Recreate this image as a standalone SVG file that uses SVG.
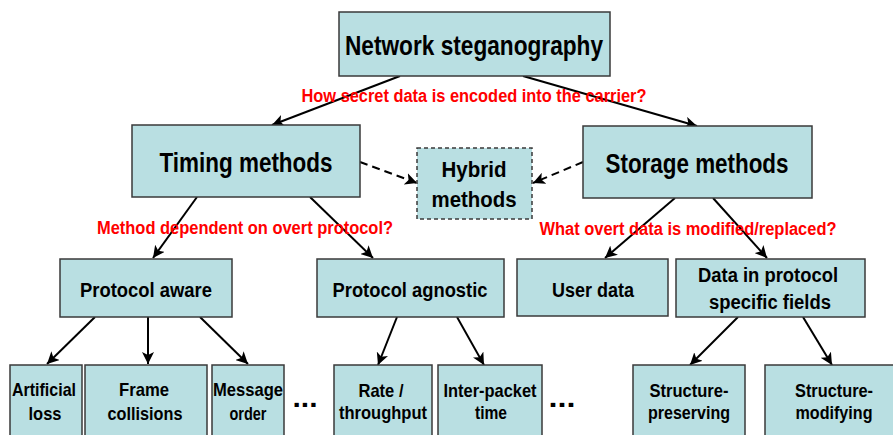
<svg xmlns="http://www.w3.org/2000/svg" width="893" height="435" viewBox="0 0 893 435">
<style>
.box{fill:#B9DFE2;stroke:#3a3a3a;stroke-width:1.5}
.dbox{fill:#B9DFE2;stroke:#3a3a3a;stroke-width:1.5;stroke-dasharray:4 3}
text{font-family:"Liberation Sans",Arial,sans-serif;font-weight:bold;fill:#000;text-anchor:middle}
.t1{font-size:27px}
.t2{font-size:22px}
.t3{font-size:20px}
.t4{font-size:19px}
.q{font-size:18px;fill:#FF0000}
.dots{font-size:28px}
.ln{stroke:#000;stroke-width:2;fill:none;marker-end:url(#ah)}
.dl{stroke:#000;stroke-width:2;fill:none;stroke-dasharray:8 5;marker-end:url(#ah)}
</style>
<defs>
<marker id="ah" markerUnits="userSpaceOnUse" markerWidth="14" markerHeight="12" refX="12" refY="6" orient="auto">
<path d="M0,0 L12,6 L0,12 L3,6 Z" fill="#000"/>
</marker>
</defs>
<g id="connectors">
<line class="ln" x1="400" y1="76" x2="272" y2="125"/>
<line class="ln" x1="523" y1="76" x2="697" y2="126"/>
<line class="dl" x1="360" y1="162" x2="417" y2="183"/>
<line class="dl" x1="583" y1="162" x2="533" y2="183"/>
<line class="ln" x1="197" y1="197" x2="153" y2="258"/>
<line class="ln" x1="310" y1="197" x2="373" y2="258"/>
<line class="ln" x1="675" y1="198" x2="605" y2="258"/>
<line class="ln" x1="713" y1="198" x2="767" y2="258"/>
<line class="ln" x1="95" y1="317" x2="47" y2="364"/>
<line class="ln" x1="148" y1="317" x2="148" y2="364"/>
<line class="ln" x1="200" y1="317" x2="248" y2="364"/>
<line class="ln" x1="397" y1="317" x2="378" y2="365"/>
<line class="ln" x1="457" y1="317" x2="484" y2="365"/>
<line class="ln" x1="738" y1="317" x2="690" y2="365"/>
<line class="ln" x1="803" y1="317" x2="832" y2="365"/>
</g>
<g id="labels">
<text class="q" x="474" y="102" textLength="345" lengthAdjust="spacingAndGlyphs">How secret data is encoded into the carrier?</text>
<text class="q" x="245" y="234" textLength="296" lengthAdjust="spacingAndGlyphs">Method dependent on overt protocol?</text>
<text class="q" x="688" y="235" textLength="297" lengthAdjust="spacingAndGlyphs">What overt data is modified/replaced?</text>
<text class="dots" x="305" y="407" textLength="25" lengthAdjust="spacingAndGlyphs">...</text>
<text class="dots" x="562" y="407" textLength="27" lengthAdjust="spacingAndGlyphs">...</text>
</g>
<g id="root">
<rect class="box" x="339" y="12" width="271" height="64"/>
<text class="t1" x="474" y="55" textLength="258" lengthAdjust="spacingAndGlyphs">Network steganography</text>
</g>
<g id="timing">
<rect class="box" x="132" y="125" width="228" height="72"/>
<text class="t1" x="246" y="172" textLength="173" lengthAdjust="spacingAndGlyphs">Timing methods</text>
</g>
<g id="hybrid">
<rect class="dbox" x="417" y="148" width="115" height="71"/>
<text class="t2" x="474" y="177" textLength="65" lengthAdjust="spacingAndGlyphs">Hybrid</text>
<text class="t2" x="474" y="207" textLength="85" lengthAdjust="spacingAndGlyphs">methods</text>
</g>
<g id="storage">
<rect class="box" x="583" y="126" width="229" height="72"/>
<text class="t1" x="697" y="173" textLength="183" lengthAdjust="spacingAndGlyphs">Storage methods</text>
</g>
<g id="protocol-aware">
<rect class="box" x="60" y="259" width="172" height="58"/>
<text class="t3" x="146" y="297" textLength="132" lengthAdjust="spacingAndGlyphs">Protocol aware</text>
</g>
<g id="protocol-agnostic">
<rect class="box" x="317" y="259" width="187" height="58"/>
<text class="t3" x="410" y="297" textLength="155" lengthAdjust="spacingAndGlyphs">Protocol agnostic</text>
</g>
<g id="user-data">
<rect class="box" x="517" y="259" width="151" height="57"/>
<text class="t3" x="593" y="297" textLength="82" lengthAdjust="spacingAndGlyphs">User data</text>
</g>
<g id="protocol-fields">
<rect class="box" x="676" y="259" width="189" height="58"/>
<text class="t3" x="768" y="282" textLength="140" lengthAdjust="spacingAndGlyphs">Data in protocol</text>
<text class="t3" x="770" y="309" textLength="122" lengthAdjust="spacingAndGlyphs">specific fields</text>
</g>
<g id="artificial-loss">
<rect class="box" x="10" y="365" width="72" height="75"/>
<text class="t4" x="44" y="396" textLength="64" lengthAdjust="spacingAndGlyphs">Artificial</text>
<text class="t4" x="45" y="420" textLength="33" lengthAdjust="spacingAndGlyphs">loss</text>
</g>
<g id="frame-collisions">
<rect class="box" x="85" y="365" width="122" height="75"/>
<text class="t4" x="144" y="396" textLength="50" lengthAdjust="spacingAndGlyphs">Frame</text>
<text class="t4" x="145" y="420" textLength="75" lengthAdjust="spacingAndGlyphs">collisions</text>
</g>
<g id="message-order">
<rect class="box" x="212" y="365" width="72" height="75"/>
<text class="t4" x="248" y="396" textLength="70" lengthAdjust="spacingAndGlyphs">Message</text>
<text class="t4" x="248" y="420" textLength="37" lengthAdjust="spacingAndGlyphs">order</text>
</g>
<g id="rate-throughput">
<rect class="box" x="334" y="365" width="98" height="75"/>
<text class="t4" x="381" y="397" textLength="45" lengthAdjust="spacingAndGlyphs">Rate /</text>
<text class="t4" x="383" y="419" textLength="88" lengthAdjust="spacingAndGlyphs">throughput</text>
</g>
<g id="inter-packet-time">
<rect class="box" x="438" y="365" width="104" height="75"/>
<text class="t4" x="490" y="397" textLength="93" lengthAdjust="spacingAndGlyphs">Inter-packet</text>
<text class="t4" x="491" y="419" textLength="32" lengthAdjust="spacingAndGlyphs">time</text>
</g>
<g id="structure-preserving">
<rect class="box" x="633" y="365" width="112" height="75"/>
<text class="t4" x="689" y="397" textLength="79" lengthAdjust="spacingAndGlyphs">Structure-</text>
<text class="t4" x="689" y="419" textLength="82" lengthAdjust="spacingAndGlyphs">preserving</text>
</g>
<g id="structure-modifying">
<rect class="box" x="765" y="365" width="135" height="75"/>
<text class="t4" x="834" y="397" textLength="78" lengthAdjust="spacingAndGlyphs">Structure-</text>
<text class="t4" x="834" y="419" textLength="77" lengthAdjust="spacingAndGlyphs">modifying</text>
</g>
</svg>
